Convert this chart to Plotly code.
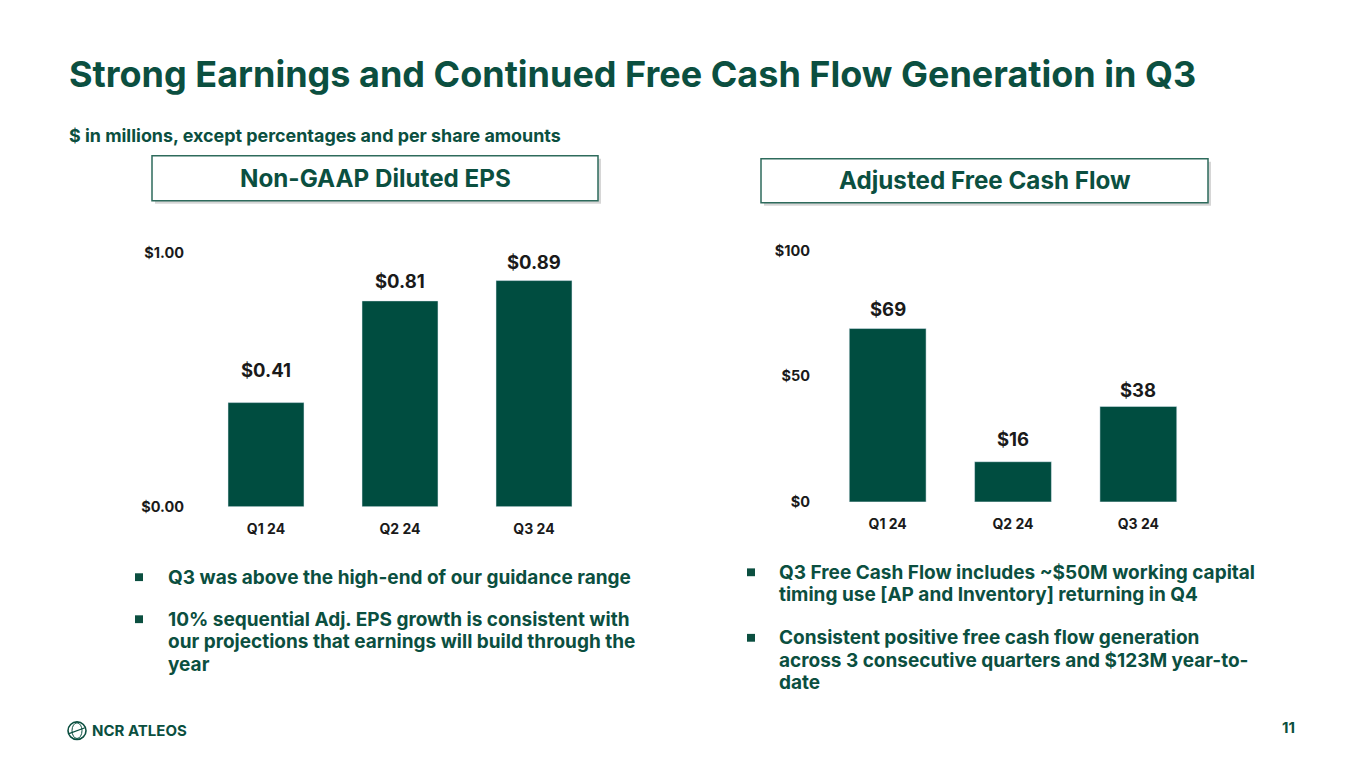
import plotly.graph_objects as go

# ---- data ----
quarters = ["Q1 24", "Q2 24", "Q3 24"]
eps_values = [0.41, 0.81, 0.89]
eps_labels = ["$0.41", "$0.81", "$0.89"]
eps_ticks = [0.0, 1.0]
eps_tick_labels = ["$0.00", "$1.00"]
fcf_values = [69, 16, 38]
fcf_labels = ["$69", "$16", "$38"]
fcf_ticks = [0, 50, 100]
fcf_tick_labels = ["$0", "$50", "$100"]

title_text = "Strong Earnings and Continued Free Cash Flow Generation in Q3"
subtitle_text = "$ in millions, except percentages and per share amounts"
left_header = "Non-GAAP Diluted EPS"
right_header = "Adjusted Free Cash Flow"
left_bullets = [
    ["Q3 was above the high-end of our guidance range"],
    ["10% sequential Adj. EPS growth is consistent with",
     "our projections that earnings will build through the",
     "year"],
]
right_bullets = [
    ["Q3 Free Cash Flow includes ~$50M working capital",
     "timing use [AP and Inventory] returning in Q4"],
    ["Consistent positive free cash flow generation",
     "across 3 consecutive quarters and $123M year-to-",
     "date"],
]

# ---- styles ----
OFF = 8                      # page body margin
W, H = 1365 - OFF, 768 - OFF
GREEN = "#004D40"
TEXT_GREEN = "#0B4F40"
DARK = "#1A1A1A"
FONT = "Inter"


def px(x):
    return (x - OFF) / W


def py(y):
    return 1 - (y - OFF) / H


fig = go.Figure()
fig.add_trace(go.Bar(x=quarters, y=eps_values, marker_color=GREEN, width=0.567,
                     xaxis="x", yaxis="y", hoverinfo="skip", showlegend=False))
fig.add_trace(go.Bar(x=quarters, y=fcf_values, marker_color=GREEN, width=0.613,
                     xaxis="x2", yaxis="y2", hoverinfo="skip", showlegend=False))

tick_font = dict(family=FONT, size=14.5, color=DARK, weight="bold")
cat_font = dict(family=FONT, size=14, color=DARK, weight="bold")
value_font = dict(family=FONT, size=18.5, color=DARK, weight="bold")

annotations = []
shapes = []

# value labels above bars
eps_shift = [33, 20, 19]
fcf_shift = [20, 23, 16]
for q, v, t, s in zip(quarters, eps_values, eps_labels, eps_shift):
    annotations.append(dict(x=q, y=v, xref="x", yref="y", text=t, showarrow=False,
                            yanchor="middle", yshift=s, font=value_font))
for q, v, t, s in zip(quarters, fcf_values, fcf_labels, fcf_shift):
    annotations.append(dict(x=q, y=v, xref="x2", yref="y2", text=t, showarrow=False,
                            yanchor="middle", yshift=s, font=value_font))

# title & subtitle
annotations.append(dict(x=px(67), y=py(66), xref="paper", yref="paper", text=title_text,
                        showarrow=False, xanchor="left", yanchor="middle",
                        font=dict(family=FONT, size=36, color=TEXT_GREEN, weight="bold")))
annotations.append(dict(x=px(67), y=py(129), xref="paper", yref="paper", text=subtitle_text,
                        showarrow=False, xanchor="left", yanchor="middle",
                        font=dict(family=FONT, size=17.9, color=TEXT_GREEN, weight="bold")))

# header boxes with shadow
for (x0, y0, x1, y1, label) in [(152, 150, 598, 196, left_header),
                                (761, 153, 1208, 198, right_header)]:
    shapes.append(dict(type="rect", xref="paper", yref="paper",
                       x0=px(x0 + 3), x1=px(x1 + 3), y0=py(y1 + 3), y1=py(y0 + 3),
                       line=dict(width=0), fillcolor="rgba(0,0,0,0.16)", layer="below"))
    shapes.append(dict(type="rect", xref="paper", yref="paper",
                       x0=px(x0), x1=px(x1), y0=py(y1), y1=py(y0),
                       line=dict(width=1.5, color="#2E6B5C"), fillcolor="white", layer="below"))
    annotations.append(dict(x=px((x0 + x1) / 2), y=py((y0 + y1) / 2), xref="paper", yref="paper",
                            text=label, showarrow=False, xanchor="center", yanchor="middle",
                            font=dict(family=FONT, size=24.2, color=TEXT_GREEN, weight="bold")))

# bullets (one annotation per line)
bullet_font = dict(family=FONT, size=19, color=TEXT_GREEN, weight="bold")
for sq_x, txt_x, items, line_ys in [
    (139, 167, left_bullets, [[581], [624, 647, 670]]),
    (751, 778, right_bullets, [[576, 599], [643, 666, 689]]),
]:
    for lines, ys in zip(items, line_ys):
        shapes.append(dict(type="rect", xref="paper", yref="paper",
                           x0=px(sq_x - 4), x1=px(sq_x + 4), y0=py(ys[0] + 4), y1=py(ys[0] - 4),
                           line=dict(width=0), fillcolor=TEXT_GREEN))
        for line, y in zip(lines, ys):
            annotations.append(dict(x=px(txt_x), y=py(y), xref="paper", yref="paper", text=line,
                                    showarrow=False, xanchor="left", yanchor="middle",
                                    borderpad=0, font=bullet_font))

# footer logo and page number
shapes.append(dict(type="circle", xref="paper", yref="paper",
                   x0=px(68), x1=px(86), y0=py(747), y1=py(729),
                   line=dict(width=1.6, color=TEXT_GREEN)))
shapes.append(dict(type="circle", xref="paper", yref="paper",
                   x0=px(72), x1=px(82), y0=py(746), y1=py(730),
                   line=dict(width=1.0, color=TEXT_GREEN)))
shapes.append(dict(type="line", xref="paper", yref="paper",
                   x0=px(69), x1=px(85), y0=py(741), y1=py(735),
                   line=dict(width=1.2, color=TEXT_GREEN)))
annotations.append(dict(x=px(90), y=py(738), xref="paper", yref="paper", text="NCR ATLEOS",
                        showarrow=False, xanchor="left", yanchor="middle",
                        font=dict(family=FONT, size=15, color=TEXT_GREEN, weight="bold")))
annotations.append(dict(x=px(1297), y=py(735), xref="paper", yref="paper", text="11",
                        showarrow=False, xanchor="right", yanchor="middle",
                        font=dict(family=FONT, size=15, color=TEXT_GREEN, weight="bold")))

axis_common = dict(showgrid=False, zeroline=False, showline=False, ticks="", fixedrange=True)

fig.update_layout(
    width=W, height=H,
    margin=dict(l=0, r=0, t=0, b=0),
    paper_bgcolor="white", plot_bgcolor="white",
    showlegend=False,
    xaxis=dict(domain=[px(199), px(601)], anchor="y", range=[-0.5, 2.5],
               tickfont=cat_font, ticklabelstandoff=12, **axis_common),
    yaxis=dict(domain=[py(509), py(249)], anchor="x", range=[0, 1.0],
               tickvals=eps_ticks, ticktext=eps_tick_labels, tickfont=tick_font,
               ticklabelstandoff=14, **axis_common),
    xaxis2=dict(domain=[px(825), px(1201)], anchor="y2", range=[-0.5, 2.5],
                tickfont=cat_font, ticklabelstandoff=12, **axis_common),
    yaxis2=dict(domain=[py(504), py(247)], anchor="x2", range=[0, 100],
                tickvals=fcf_ticks, ticktext=fcf_tick_labels, tickfont=tick_font,
                ticklabelstandoff=14, **axis_common),
    annotations=annotations,
    shapes=shapes,
)

fig.write_html("out.html")
